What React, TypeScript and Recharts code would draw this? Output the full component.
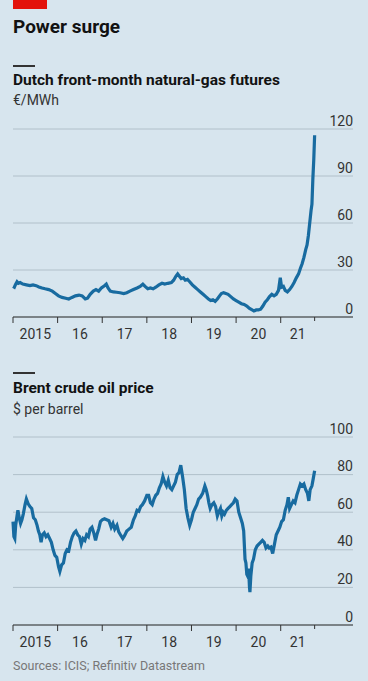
import React from 'react'
import { LineChart, Line, XAxis, YAxis, CartesianGrid } from 'recharts'

// Dutch TTF front-month gas, €/MWh (fractional years)
const gasDates = [
  2015.0, 2015.03, 2015.06, 2015.09, 2015.12, 2015.16, 2015.22, 2015.3, 2015.38, 2015.45,
  2015.52, 2015.58, 2015.65, 2015.72, 2015.8, 2015.88, 2015.95, 2016.02, 2016.1, 2016.18,
  2016.25, 2016.32, 2016.4, 2016.48, 2016.55, 2016.62, 2016.67, 2016.73, 2016.8, 2016.86,
  2016.92, 2016.98, 2017.05, 2017.09, 2017.13, 2017.18, 2017.25, 2017.32, 2017.4, 2017.48,
  2017.55, 2017.62, 2017.7, 2017.78, 2017.85, 2017.91, 2017.96, 2018.02, 2018.08, 2018.14,
  2018.2, 2018.27, 2018.34, 2018.4, 2018.47, 2018.55, 2018.6, 2018.65, 2018.69, 2018.73,
  2018.77, 2018.82, 2018.86, 2018.91, 2018.96, 2019.02, 2019.08, 2019.14, 2019.2, 2019.26,
  2019.32, 2019.38, 2019.43, 2019.48, 2019.53, 2019.58, 2019.63, 2019.67, 2019.72, 2019.77,
  2019.82, 2019.88, 2019.94, 2020.0, 2020.06, 2020.12, 2020.18, 2020.24, 2020.3, 2020.36,
  2020.4, 2020.45, 2020.5, 2020.55, 2020.6, 2020.65, 2020.7, 2020.75, 2020.8, 2020.85,
  2020.9, 2020.95, 2020.99, 2021.02, 2021.06, 2021.1, 2021.15, 2021.2, 2021.25, 2021.3,
  2021.35, 2021.4, 2021.44, 2021.48, 2021.52, 2021.56, 2021.59, 2021.62, 2021.65, 2021.68,
  2021.7, 2021.72, 2021.74, 2021.76,
]
const gasValues = [
  19.5, 19, 21, 22.5, 21.5, 22, 21, 20.5, 20, 20.5,
  20, 19.2, 18.5, 18, 17.5, 16.5, 15, 13.5, 12.5, 12,
  11.5, 12.5, 13.5, 14, 13.5, 11.5, 12, 14.5, 16.5, 17.5,
  16.5, 18.5, 20, 21, 18.5, 16.5, 16, 15.8, 15.5, 15,
  15.5, 16.5, 17.5, 18.5, 19.5, 21, 19.5, 18, 18.5, 18,
  19, 20.5, 21.5, 21, 21.5, 22, 23.5, 26, 27.5, 26,
  24.5, 25, 23.5, 24, 22.5, 20.5, 19, 17.5, 16, 14.5,
  13, 11.5, 10.5, 11, 10, 11.5, 13.5, 15, 15.5, 15,
  14.5, 13, 11.5, 10.5, 9.5, 8.5, 8, 7, 5.5, 4.5,
  3.8, 4.5, 4.5, 5, 7, 9.5, 11, 13, 14.5, 13.5,
  14.5, 17, 25, 19, 19.5, 17, 16, 17.5, 19.5, 22,
  25, 27.5, 31, 34, 38, 43, 46, 52, 60, 68,
  72, 88, 100, 116,
]

// Brent crude, $ per barrel
const oilDates = [
  2015.0, 2015.02, 2015.04, 2015.06, 2015.09, 2015.11, 2015.14, 2015.17, 2015.2, 2015.23,
  2015.27, 2015.3, 2015.34, 2015.38, 2015.42, 2015.46, 2015.5, 2015.54, 2015.57, 2015.6,
  2015.63, 2015.66, 2015.7, 2015.74, 2015.78, 2015.82, 2015.86, 2015.9, 2015.94, 2015.98,
  2016.02, 2016.05, 2016.09, 2016.13, 2016.17, 2016.21, 2016.25, 2016.29, 2016.33, 2016.37,
  2016.41, 2016.45, 2016.49, 2016.53, 2016.57, 2016.61, 2016.65, 2016.69, 2016.73, 2016.77,
  2016.81, 2016.85, 2016.88, 2016.92, 2016.96, 2017.0, 2017.05, 2017.1, 2017.15, 2017.2,
  2017.24, 2017.28, 2017.33, 2017.37, 2017.42, 2017.46, 2017.5, 2017.55, 2017.6, 2017.65,
  2017.7, 2017.74, 2017.78, 2017.82, 2017.86, 2017.9, 2017.95, 2018.0, 2018.04, 2018.08,
  2018.12, 2018.16, 2018.2, 2018.24, 2018.28, 2018.32, 2018.36, 2018.4, 2018.44, 2018.48,
  2018.52, 2018.56, 2018.6, 2018.64, 2018.68, 2018.72, 2018.76, 2018.8, 2018.84, 2018.88,
  2018.92, 2018.96, 2019.0, 2019.04, 2019.08, 2019.12, 2019.16, 2019.2, 2019.25, 2019.3,
  2019.33, 2019.36, 2019.39, 2019.42, 2019.46, 2019.5, 2019.54, 2019.58, 2019.61, 2019.65,
  2019.68, 2019.71, 2019.74, 2019.78, 2019.82, 2019.86, 2019.9, 2019.94, 2019.98, 2020.02,
  2020.06, 2020.1, 2020.14, 2020.17, 2020.2, 2020.22, 2020.24, 2020.26, 2020.28, 2020.3,
  2020.31, 2020.33, 2020.36, 2020.39, 2020.43, 2020.47, 2020.51, 2020.55, 2020.59, 2020.63,
  2020.67, 2020.71, 2020.74, 2020.78, 2020.82, 2020.86, 2020.9, 2020.94, 2020.98, 2021.02,
  2021.06, 2021.1, 2021.14, 2021.17, 2021.2, 2021.24, 2021.28, 2021.32, 2021.36, 2021.4,
  2021.44, 2021.48, 2021.52, 2021.56, 2021.6, 2021.63, 2021.66, 2021.7, 2021.73, 2021.76,
]
const oilValues = [
  55, 47, 46, 53, 58, 61, 57, 54, 56, 59,
  64, 67, 64.5, 63, 62, 57, 56, 53, 50, 48,
  44, 48, 49, 47, 48, 46, 44, 40, 37, 36,
  31, 28.5, 32, 33, 38, 40, 39.5, 44, 47, 49,
  50, 48, 47, 43, 46, 45, 48, 47, 51, 52,
  49, 45, 48, 51, 55, 56, 56.5, 56, 55.5, 52,
  54, 51, 53, 49.5, 47.5, 46, 47.5, 50, 51, 52,
  56, 58, 61, 60.5, 63, 64, 66, 69, 69, 65,
  64, 67, 69, 70, 73, 75, 79, 76, 74, 77,
  73, 72, 74, 76, 80, 81, 85, 79, 72, 62,
  57, 53, 56, 60, 62, 64, 67, 68, 70, 74,
  72, 69, 65, 62, 64, 65, 63, 58, 60, 62,
  58, 60, 59, 61, 62, 63, 64, 65, 67, 66,
  60, 57, 54, 50, 35, 33, 27, 26, 30, 20,
  17.5, 26, 33, 35, 40, 42, 43, 44, 45, 44,
  41, 42, 41, 41.5, 38, 43, 48, 50, 52, 55,
  56, 61, 64, 68, 62, 64, 66, 65, 69, 72,
  75, 74, 75, 72, 70, 66, 72, 74, 78, 82,
]

const yearTicks = [2015, 2016, 2017, 2018, 2019, 2020, 2021]
const yearLabels = ['2015', '16', '17', '18', '19', '20', '21']
const gasTicks = [0, 30, 60, 90, 120]
const oilTicks = [0, 20, 40, 60, 80, 100]

const BG = '#d7e5ee'
const BLUE = '#186ba0'
const FONT = 'Roboto, "Noto Sans", sans-serif'

const endDate = gasDates[gasDates.length - 1]
const tickMarks = [...yearTicks, endDate]
const labelPos = tickMarks.slice(0, -1).map((t, i) => (t + tickMarks[i + 1]) / 2)
const xTicks = [...tickMarks, ...labelPos].sort((a, b) => a - b)

const gasData = gasDates.map((t, i) => ({ t, v: gasValues[i] }))
const oilData = oilDates.map((t, i) => ({ t, v: oilValues[i] }))

function XTick({ x, y, payload }: any) {
  const li = labelPos.indexOf(payload.value)
  if (li >= 0) {
    return (
      <text x={x} y={y + 22} textAnchor="middle" fontSize={14} fill="#333" fontFamily={FONT}>
        {yearLabels[li]}
      </text>
    )
  }
  const short = payload.value === endDate
  return <line x1={x} x2={x} y1={y} y2={y + (short ? 4 : 6)} stroke="#333" strokeWidth={1} />
}

function YTick({ x, y, payload }: any) {
  return (
    <text x={x} y={y - 3.5} textAnchor="end" fontSize={14} fill="#333" fontFamily={FONT}>
      {payload.value}
    </text>
  )
}

function Panel({ data, ticks, top }: { data: any[]; ticks: number[]; top: number }) {
  return (
    <div style={{ position: 'absolute', left: 0, top }}>
      <LineChart width={368} height={238} data={data} margin={{ top: 18, right: 14, left: 13, bottom: 2 }}>
        <CartesianGrid vertical={false} stroke="#b1c0ca" strokeWidth={1} />
        <XAxis
          dataKey="t"
          type="number"
          domain={[2015, 2022.62]}
          ticks={xTicks}
          interval={0}
          tick={<XTick />}
          tickLine={false}
          tickSize={0}
          tickMargin={0}
          height={30}
          axisLine={{ stroke: '#333', strokeWidth: 1 }}
        />
        <YAxis
          orientation="right"
          domain={[0, ticks[ticks.length - 1]]}
          ticks={ticks}
          interval={0}
          width={1}
          tick={<YTick />}
          tickLine={false}
          tickSize={0}
          tickMargin={0}
          axisLine={false}
        />
        <Line type="linear" dataKey="v" stroke={BLUE} strokeWidth={3.2} dot={false} isAnimationActive={false} />
      </LineChart>
    </div>
  )
}

const abs = (top: number, extra: React.CSSProperties = {}): React.CSSProperties => ({
  position: 'absolute',
  left: 13,
  top,
  whiteSpace: 'nowrap',
  ...extra,
})

export default function App() {
  return (
    <div
      style={{
        position: 'absolute',
        left: 0,
        top: 0,
        width: 368,
        height: 681,
        background: BG,
        fontFamily: FONT,
        color: '#121212',
        overflow: 'hidden',
      }}
    >
      <div style={{ position: 'absolute', left: 13, top: 0, width: 34, height: 9, background: '#e3120b' }} />
      <div style={abs(15, { fontSize: 19, fontWeight: 700, lineHeight: '24px' })}>Power surge</div>

      <div style={abs(65, { width: 22, height: 1.5, background: '#333' })} />
      <div style={abs(70, { fontSize: 15.5, fontWeight: 700, lineHeight: '20px' })}>
        Dutch front-month natural-gas futures
      </div>
      <div style={abs(91, { fontSize: 14, lineHeight: '18px', color: '#333' })}>€/MWh</div>
      <Panel data={gasData} ticks={gasTicks} top={111.3} />

      <div style={abs(372, { width: 22, height: 1.5, background: '#333' })} />
      <div style={abs(378, { fontSize: 15.5, fontWeight: 700, lineHeight: '20px' })}>Brent crude oil price</div>
      <div style={abs(400, { fontSize: 14, lineHeight: '18px', color: '#333' })}>$ per barrel</div>
      <Panel data={oilData} ticks={oilTicks} top={418.7} />

      <div style={abs(658, { fontSize: 12.5, lineHeight: '16px', color: '#777' })}>
        Sources: ICIS; Refinitiv Datastream
      </div>
    </div>
  )
}
